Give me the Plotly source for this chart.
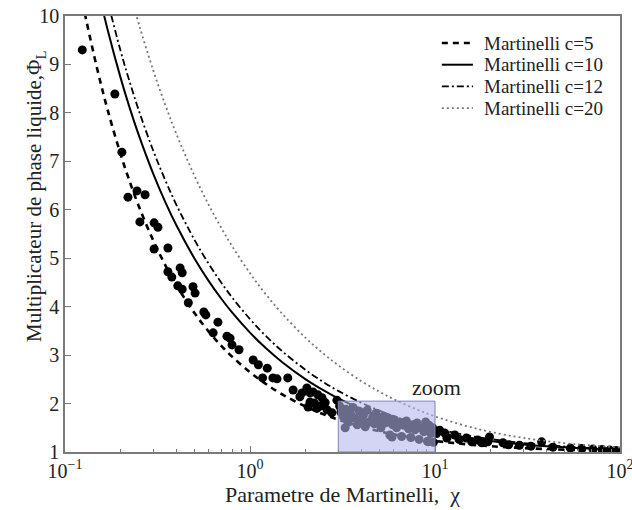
import plotly.graph_objects as go

# Martinelli parameter sample points and model curves Phi_L for each c
chi_curve = [0.1, 0.12, 0.13, 0.15, 0.17, 0.2, 0.22, 0.25, 0.3, 0.35, 0.4, 0.5, 0.6, 0.7, 0.8,
             1, 1.2, 1.5, 2, 2.5, 3, 4, 5, 6, 8, 10, 15, 20, 30, 50, 70, 100]
phi_c5 = [12.29, 10.59, 9.931, 8.876, 8.063, 7.141, 6.663, 6.083, 5.364, 4.843, 4.444, 3.873, 3.480, 3.191, 2.969,
          2.646, 2.421, 2.186, 1.936, 1.778, 1.667, 1.521, 1.428, 1.364, 1.281, 1.229, 1.157, 1.119, 1.081, 1.049, 1.035, 1.025]
phi_c10 = [14.18, 12.40, 11.71, 10.59, 9.717, 8.718, 8.192, 7.550, 6.741, 6.143, 5.679, 5.000, 4.522, 4.163, 3.881,
           3.464, 3.167, 2.848, 2.500, 2.272, 2.108, 1.887, 1.744, 1.641, 1.505, 1.418, 1.293, 1.226, 1.155, 1.096, 1.069, 1.049]
phi_c12 = [14.87, 13.05, 12.35, 11.20, 10.31, 9.274, 8.730, 8.062, 7.219, 6.592, 6.103, 5.385, 4.876, 4.493, 4.191,
           3.742, 3.420, 3.073, 2.693, 2.441, 2.261, 2.016, 1.855, 1.740, 1.586, 1.487, 1.343, 1.266, 1.184, 1.114, 1.082, 1.058]
phi_c20 = [17.35, 15.40, 14.63, 13.37, 12.38, 11.22, 10.61, 9.849, 8.876, 8.143, 7.566, 6.708, 6.092, 5.623, 5.250,
           4.690, 4.285, 3.844, 3.354, 3.027, 2.789, 2.462, 2.245, 2.088, 1.875, 1.735, 1.529, 1.415, 1.291, 1.183, 1.134, 1.095]

# Experimental points
chi_exp = [0.124, 0.186, 0.203, 0.219, 0.245, 0.271, 0.254, 0.303, 0.318, 0.303, 0.360, 0.360, 0.378, 0.419, 0.430,
           0.407, 0.430, 0.492, 0.505, 0.464, 0.563, 0.577, 0.671, 0.632, 0.751, 0.78, 0.80, 0.872, 1.04, 1.11,
           1.24, 1.17, 1.33, 1.40, 1.60, 1.71, 1.86, 1.91, 2.03, 2.11, 2.19, 2.33, 2.45, 2.11, 2.06, 2.23, 2.61,
           2.77, 2.95, 2.4, 2.55, 2.3,
           3.05, 3.1, 3.2, 3.3, 3.4, 3.5, 3.6, 3.7, 3.8, 3.9, 4.0, 4.1, 4.2, 4.3, 4.4, 4.6, 4.7, 4.8, 5.0, 5.1,
           5.3, 5.4, 5.6, 5.7, 5.9, 6.0, 6.2, 6.4, 6.6, 6.8, 7.0, 7.2, 7.4, 7.6, 7.8, 8.0, 8.2, 8.4, 8.7, 8.9,
           9.1, 9.3, 9.5, 9.7, 9.8, 3.27, 5.86, 9.2,
           10.2, 10.6, 11.3, 11.6, 12.8, 13.5, 14.8, 15.8, 17.0, 17.9, 19.7, 19.3, 23.3, 25, 28.6, 33, 37.7,
           43.4, 53.9, 62, 71.4, 80, 88, 95]
phi_exp = [9.30, 8.39, 7.19, 6.26, 6.39, 6.31, 5.75, 5.73, 5.64, 5.19, 5.21, 4.72, 4.61, 4.80, 4.70,
           4.43, 4.36, 4.41, 4.28, 4.08, 3.89, 3.83, 3.68, 3.46, 3.39, 3.35, 3.21, 3.11, 2.90, 2.80,
           2.73, 2.53, 2.53, 2.51, 2.53, 2.28, 2.14, 2.22, 2.32, 2.22, 2.24, 2.18, 2.12, 2.03, 1.93, 2.01, 1.87,
           1.81, 2.07, 1.95, 2.02, 1.90,
           1.95, 1.82, 1.72, 1.88, 1.62, 1.78, 1.92, 1.70, 1.56, 1.84, 1.66, 1.76, 1.52, 1.86, 1.62, 1.72, 1.58, 1.80, 1.66, 1.50,
           1.74, 1.60, 1.70, 1.35, 1.56, 1.66, 1.50, 1.62, 1.32, 1.55, 1.64, 1.48, 1.30, 1.56, 1.46, 1.60, 1.26, 1.50, 1.42, 1.62,
           1.22, 1.55, 1.38, 1.50, 1.20, 1.50, 1.31, 1.21,
           1.38, 1.45, 1.39, 1.29, 1.35, 1.26, 1.29, 1.21, 1.25, 1.19, 1.31, 1.21, 1.19, 1.15, 1.14, 1.12, 1.21,
           1.10, 1.08, 1.07, 1.06, 1.05, 1.04, 1.03]

zoom_x = [3.0, 10.0]
zoom_y = [1.0, 2.05]

xtick_vals = [0.1, 1, 10, 100]
xtick_text = ["10<sup>−1</sup>", "10<sup>0</sup>", "10<sup>1</sup>", "10<sup>2</sup>"]
minor_vals = [0.2, 0.3, 0.4, 0.5, 0.6, 0.7, 0.8, 0.9, 2, 3, 4, 5, 6, 7, 8, 9, 20, 30, 40, 50, 60, 70, 80, 90]

legend_labels = ["Martinelli c=5", "Martinelli c=10", "Martinelli c=12", "Martinelli c=20"]

FONT = "Liberation Serif, Times New Roman, serif"

styles = [
    dict(color="black", width=2.6, dash="6px,5px"),
    dict(color="black", width=2.0),
    dict(color="black", width=1.8, dash="7px,3px,2px,3px"),
    dict(color="#777777", width=1.8, dash="2px,3px"),
]
curves = [phi_c5, phi_c10, phi_c12, phi_c20]

fig = go.Figure()
fig.add_trace(go.Scatter(x=chi_exp, y=phi_exp, mode="markers", showlegend=False,
                         marker=dict(color="black", size=9, line=dict(width=0))))
for name, ys, st in zip(legend_labels, curves, styles):
    fig.add_trace(go.Scatter(x=chi_curve, y=ys, mode="lines", name=name, showlegend=False,
                             line=dict(shape="spline", **st)))

# legend drawn as real text + line samples (compact spacing like the original)
for i, (name, st) in enumerate(zip(legend_labels, styles)):
    yy = 0.938 - i * 0.0497
    fig.add_shape(type="line", xref="paper", yref="paper", x0=0.679, x1=0.735, y0=yy, y1=yy,
                  line=dict(color=st["color"], width=st["width"], dash=st.get("dash", "solid")))
    fig.add_annotation(x=0.751, y=yy, xref="paper", yref="paper", text=name, showarrow=False,
                       xanchor="left", yanchor="middle", font=dict(family=FONT, size=19, color="#222"))

fig.add_shape(type="rect", xref="x", yref="y", x0=zoom_x[0], x1=zoom_x[1], y0=zoom_y[0], y1=zoom_y[1],
              fillcolor="rgba(181,181,238,0.58)", line=dict(color="rgba(130,130,190,1)", width=1), layer="above")
fig.add_annotation(x=1.0105, y=2.33, xref="x", yref="y", text="zoom", showarrow=False,
                   font=dict(family=FONT, size=22, color="#222"))

# y-axis title (placed like the original, slightly above the axis centre)
fig.add_annotation(x=-0.081, y=0.585, xref="paper", yref="paper", textangle=-90, showarrow=False,
                   text="Multiplicateur de phase liquide,Φ<sub>L</sub>",
                   font=dict(family=FONT, size=21, color="#222"))

axis_common = dict(showline=True, linecolor="#7a7a7a", linewidth=1.5, mirror=True,
                   ticks="inside", tickcolor="#7a7a7a", ticklen=6, showgrid=False, zeroline=False,
                   automargin=False, ticklabeloverflow="allow",
                   tickfont=dict(family=FONT, size=20, color="#222"))

fig.update_xaxes(type="log", range=[-1, 2], tickvals=xtick_vals, ticktext=xtick_text,
                 minor=dict(tickvals=minor_vals, ticks="inside", ticklen=3, tickcolor="#7a7a7a"),
                 title=dict(text="Parametre de Martinelli,  χ", font=dict(family=FONT, size=22, color="#222"),
                            standoff=2),
                 **axis_common)
fig.update_yaxes(range=[1, 10], dtick=1, **axis_common)

fig.update_layout(width=632, height=510, margin=dict(l=65, r=12, t=16, b=58, autoexpand=False),
                  plot_bgcolor="white", paper_bgcolor="white", showlegend=False)

fig.write_html("out.html", config={"displayModeBar": False},
               post_script="document.body.style.margin='0';document.body.style.overflow='hidden';"
                           "document.documentElement.style.overflow='hidden';")
